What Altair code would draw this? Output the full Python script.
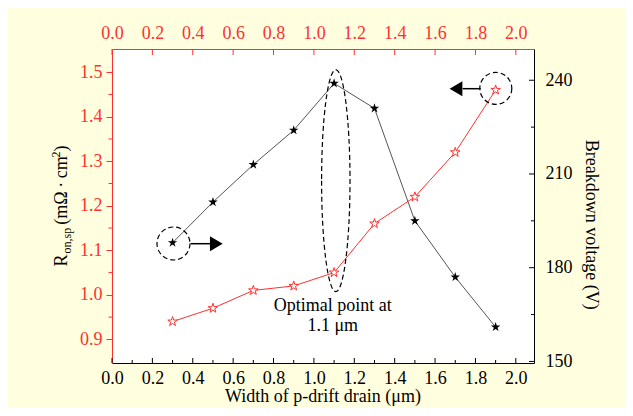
import altair as alt
import pandas as pd

# ---------------- data ----------------
width_um = [0.3, 0.5, 0.7, 0.9, 1.1, 1.3, 1.5, 1.7, 1.9]
ron_sp = [0.94, 0.97, 1.01, 1.02, 1.05, 1.16, 1.22, 1.32, 1.46]
breakdown_v = [188, 201, 213, 224, 239, 231, 195, 177, 161]

x_major = [0.0, 0.2, 0.4, 0.6, 0.8, 1.0, 1.2, 1.4, 1.6, 1.8, 2.0]
x_minor = [0.1, 0.3, 0.5, 0.7, 0.9, 1.1, 1.3, 1.5, 1.7, 1.9]
left_major = [0.9, 1.0, 1.1, 1.2, 1.3, 1.4, 1.5]
left_minor = [0.95, 1.05, 1.15, 1.25, 1.35, 1.45]
right_major = [150, 180, 210, 240]
right_minor = [165, 195, 225]

x_title = ["Width of p-drift drain (μm)"]
left_title = ["R", "on,sp", "(mΩ\u2009·\u2009cm", "2", ")"]
right_title = ["Breakdown voltage (V)"]
note_lines = ["Optimal point at", "1.1 μm"]

# ---------------- style ----------------
FONT = "Liberation Serif"
RED = "#ff3030"
W, H = 422, 314

STAR = ("M0,-1L0.2245,-0.309L0.9511,-0.309L0.3633,0.118L0.5878,0.809L0,0.382"
        "L-0.5878,0.809L-0.3633,0.118L-0.9511,-0.309L-0.2245,-0.309Z")
ELLIPSE = "M -0.128 0 A 0.128 1 0 1 0 0.128 0 A 0.128 1 0 1 0 -0.128 0 Z"
TRI_R = "M -0.85 -1 L 0.85 0 L -0.85 1 Z"
TRI_L = "M 0.85 -1 L -0.85 0 L 0.85 1 Z"

df = pd.DataFrame({"w": width_um, "ron": ron_sp, "bv": breakdown_v})
one = pd.DataFrame({"a": [0]})

xs = alt.Scale(domain=[0, 2.09], nice=False, zero=False)
yl = alt.Scale(domain=[0.847, 1.552], nice=False, zero=False)
yr = alt.Scale(domain=[149.5, 250], nice=False, zero=False)

common_axis = dict(labelFont=FONT, labelFontSize=18, grid=False, title=None,
                   labelOverlap=False, labelFlush=False, domainWidth=1)

ax_bottom = alt.Axis(orient="bottom", values=x_major, format=".1f", ticks=False,
                     labelPadding=6, labelColor="black", domainColor="black", **common_axis)
ax_top = alt.Axis(orient="top", values=x_major, format=".1f", ticks=False,
                  labelPadding=7, labelColor=RED, domainColor=RED, **common_axis)
ax_right = alt.Axis(orient="right", values=right_major, format="d", ticks=False,
                    labelPadding=11, labelColor="black", domainColor="black", **common_axis)
ax_left = alt.Axis(orient="left", values=left_major, format=".1f", ticks=True, tickSize=6,
                   tickColor=RED, tickWidth=1, labelPadding=4, labelColor=RED,
                   domainColor=RED, **common_axis)

def xq(field, axis=None):
    return alt.X(f"{field}:Q", scale=xs, axis=axis)

def yq(field, scale, axis=None):
    return alt.Y(f"{field}:Q", scale=scale, axis=axis)

base = alt.Chart(df)

black_line = base.mark_line(color="#555555", strokeWidth=1).encode(
    x=xq("w", ax_bottom), y=yq("bv", yr, ax_right))
black_pts = base.mark_point(shape=STAR, filled=True, color="black", size=100, opacity=1).encode(
    x=xq("w"), y=yq("bv", yr))
red_line = base.mark_line(color=RED, strokeWidth=1).encode(
    x=xq("w", ax_top), y=yq("ron", yl, ax_left))
red_pts = base.mark_point(shape=STAR, filled=True, fill="white", stroke=RED,
                          strokeWidth=1, size=100, opacity=1).encode(
    x=xq("w"), y=yq("ron", yl))

# inward / minor ticks
top_ticks = alt.Chart(pd.DataFrame({"t": x_major})).mark_rule(color=RED, strokeWidth=1).encode(
    x=xq("t"), y=alt.value(0), y2=alt.value(6))
bot_major = alt.Chart(pd.DataFrame({"t": x_major})).mark_rule(color="black", strokeWidth=1).encode(
    x=xq("t"), y=alt.value(H), y2=alt.value(H - 5))
bot_minor = alt.Chart(pd.DataFrame({"t": x_minor})).mark_rule(color="black", strokeWidth=1).encode(
    x=xq("t"), y=alt.value(H), y2=alt.value(H - 3))
right_maj = alt.Chart(pd.DataFrame({"v": right_major})).mark_rule(color="black", strokeWidth=1).encode(
    y=yq("v", yr), x=alt.value(W), x2=alt.value(W - 5))
right_min = alt.Chart(pd.DataFrame({"v": right_minor})).mark_rule(color="black", strokeWidth=1).encode(
    y=yq("v", yr), x=alt.value(W), x2=alt.value(W - 3))
left_min = alt.Chart(pd.DataFrame({"v": left_minor})).mark_rule(color=RED, strokeWidth=1).encode(
    y=yq("v", yl), x=alt.value(0), x2=alt.value(-3.5))

def sym(shape, size, x, y, filled=False):
    if filled:
        m = alt.Chart(one).mark_point(shape=shape, size=size, filled=True, color="black", opacity=1)
    else:
        m = alt.Chart(one).mark_point(shape=shape, size=size, filled=False, stroke="black",
                                      strokeWidth=1.2, strokeDash=[5, 3], opacity=1)
    return m.encode(x=alt.value(x), y=alt.value(y))

def seg(x1, x2, y):
    return alt.Chart(one).mark_rule(color="black", strokeWidth=1.5).encode(
        x=alt.value(x1), x2=alt.value(x2), y=alt.value(y))

def txt(t, x, y, size=18, angle=0, align="center", baseline="alphabetic", color="black"):
    return alt.Chart(one).mark_text(text=t, font=FONT, fontSize=size, angle=angle, align=align,
                                    baseline=baseline, color=color).encode(
        x=alt.value(x), y=alt.value(y))

ann = [
    sym(ELLIPSE, 222 ** 2, 223.8, 131.7),
    sym("circle", 33 ** 2, 61.5, 194.5),
    sym("circle", 32 ** 2, 383.8, 39.4),
    seg(78.7, 100, 194.7),
    sym(TRI_R, 225, 104.3, 194.7, filled=True),
    seg(350.7, 368.7, 39.7),
    sym(TRI_L, 225, 344, 39.7, filled=True),
    txt(note_lines[0], 220.8, 257.4, baseline="middle"),
    txt(note_lines[1], 220.8, 277.4, baseline="middle"),
    txt(x_title[0], W / 2, 353),
    txt(right_title[0], 474.4, 175.7, angle=90),
    txt(left_title[0], -45.3, 217.4, angle=270, align="left"),
    txt(left_title[1], -41.5, 204.5, size=12, angle=270, align="left"),
    txt(left_title[2], -45.3, 175.7, angle=270, align="left"),
    txt(left_title[3], -52.5, 108.5, size=12, angle=270, align="left"),
    txt(left_title[4], -45.3, 102.5, angle=270, align="left"),
]

chart = alt.layer(
    black_line, red_line, top_ticks, bot_major, bot_minor, right_maj, right_min, left_min,
    black_pts, red_pts, *ann
).resolve_scale(y="independent").resolve_axis(x="independent").properties(
    width=W, height=H,
    padding={"left": 104, "top": 41, "right": 91, "bottom": 45},
    autosize=alt.AutoSizeParams(type="none"),
    background="#FFFFE0",
).configure_view(stroke=None, fill="white")

chart.save("out.html", embed_options={"renderer": "svg", "actions": False})
